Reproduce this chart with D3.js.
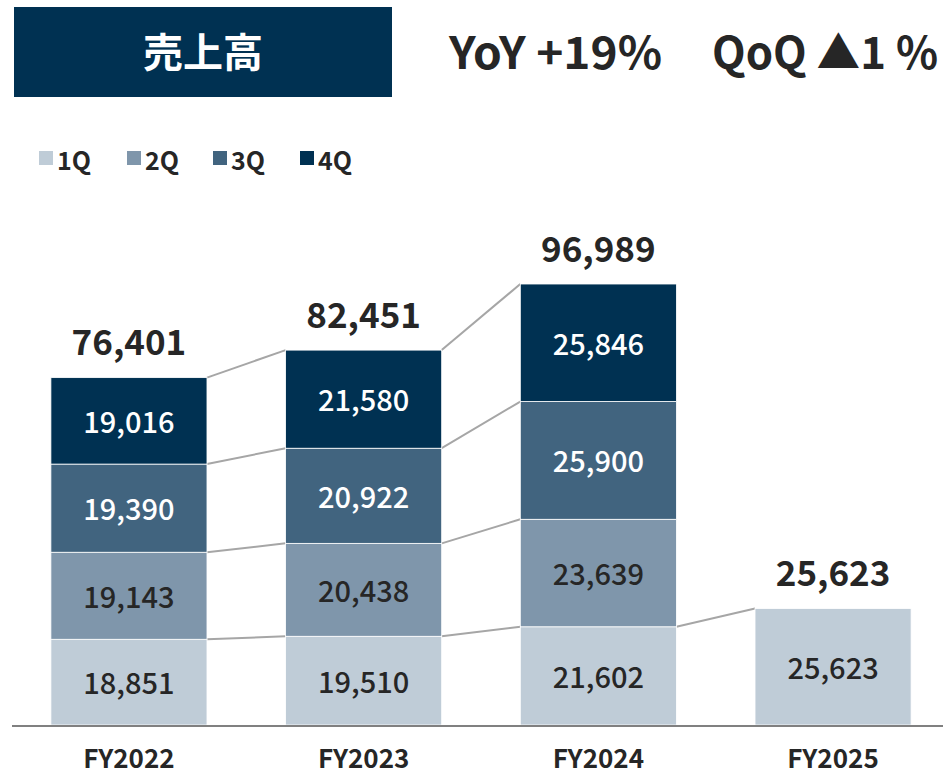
<!DOCTYPE html>
<html>
<head>
<meta charset="utf-8">
<script src="https://cdn.jsdelivr.net/npm/d3@7"></script>
<style>
  body { margin: 0; background: #fff; }
  svg text { font-family: "Noto Sans CJK JP", "Noto Sans", sans-serif; }
</style>
</head>
<body>
<svg id="chart" width="943" height="774"></svg>
<script>
// data
var years = ["FY2022", "FY2023", "FY2024", "FY2025"];
var quarters = ["1Q", "2Q", "3Q", "4Q"];
var q1 = [18851, 19510, 21602, 25623];
var q2 = [19143, 20438, 23639, null];
var q3 = [19390, 20922, 25900, null];
var q4 = [19016, 21580, 25846, null];
var totals = [76401, 82451, 96989, 25623];
var colors = ["#bfccd7", "#7f96ab", "#41647f", "#003152"];
var labelColors = ["#262626", "#262626", "#ffffff", "#ffffff"];

var svg = d3.select("#chart");
var baseY = 725;

// title box
svg.append("rect").attr("x", 14).attr("y", 7).attr("width", 378).attr("height", 90).attr("fill", "#003152");
svg.append("text").attr("x", 203).attr("y", 50).attr("text-anchor", "middle")
  .attr("dominant-baseline", "central").attr("fill", "#fff")
  .attr("font-size", 40).attr("font-weight", 700).text("売上高");
svg.append("text").attr("x", 449).attr("y", 50)
  .attr("dominant-baseline", "central").attr("fill", "#262626")
  .attr("font-size", 44).attr("font-weight", 700)
  .attr("textLength", 213).attr("lengthAdjust", "spacingAndGlyphs")
  .text("YoY +19%");
svg.append("text").attr("x", 712).attr("y", 50)
  .attr("dominant-baseline", "central").attr("fill", "#262626")
  .attr("font-size", 44).attr("font-weight", 700)
  .attr("textLength", 226).attr("lengthAdjust", "spacingAndGlyphs")
  .text("QoQ ▲1 %");

// legend
var legendX = [39, 127, 213, 300];
var legend = svg.append("g").selectAll("g").data(quarters).enter().append("g")
  .attr("transform", function(d, i) { return "translate(" + legendX[i] + ",158)"; });
legend.append("rect").attr("x", 0).attr("y", -7).attr("width", 14).attr("height", 14)
  .attr("fill", function(d, i) { return colors[i]; });
legend.append("text").attr("x", 18).attr("y", 1).attr("dominant-baseline", "central")
  .attr("font-size", 25).attr("font-weight", 700).attr("fill", "#262626")
  .text(function(d) { return d; });

// scales
var x = d3.scaleBand().domain(years).range([11, 951]).paddingInner(0.335).paddingOuter(0.17);
var y = d3.scaleLinear().domain([0, d3.max(totals)]).range([baseY, 284]);

// stacked rows
var series = [q1, q2, q3, q4];
var stacks = years.map(function(yr, j) {
  var acc = 0, segs = [];
  series.forEach(function(s, i) {
    if (s[j] == null) return;
    segs.push({year: yr, q: i, v: s[j], y0: acc, y1: acc + s[j]});
    acc += s[j];
  });
  return segs;
});

// connector lines
var conn = svg.append("g");
for (var j = 0; j < years.length - 1; j++) {
  stacks[j].forEach(function(seg) {
    var next = stacks[j + 1].filter(function(s) { return s.q === seg.q; })[0];
    if (!next) return;
    conn.append("line")
      .attr("x1", x(years[j]) + x.bandwidth()).attr("y1", y(seg.y1))
      .attr("x2", x(years[j + 1])).attr("y2", y(next.y1))
      .attr("stroke", "#a6a6a6").attr("stroke-width", 2);
  });
}

// bars
var segAll = [].concat.apply([], stacks);
svg.append("g").selectAll("rect").data(segAll).enter().append("rect")
  .attr("x", function(d) { return x(d.year); })
  .attr("y", function(d) { return y(d.y1); })
  .attr("width", x.bandwidth())
  .attr("height", function(d) { return y(d.y0) - y(d.y1); })
  .attr("fill", function(d) { return colors[d.q]; })
  .attr("stroke", "#ffffff").attr("stroke-width", 0.8);

// segment labels
svg.append("g").selectAll("text").data(segAll).enter().append("text")
  .attr("x", function(d) { return x(d.year) + x.bandwidth() / 2; })
  .attr("y", function(d) { return (y(d.y0) + y(d.y1)) / 2 - 1; })
  .attr("text-anchor", "middle").attr("dominant-baseline", "central")
  .attr("font-size", 29).attr("font-weight", 500)
  .attr("fill", function(d) { return labelColors[d.q]; })
  .text(function(d) { return d3.format(",")(d.v); });

// totals
svg.append("g").selectAll("text").data(years).enter().append("text")
  .attr("x", function(d) { return x(d) + x.bandwidth() / 2; })
  .attr("y", function(d, i) { return y(totals[i]) - 38; })
  .attr("text-anchor", "middle").attr("dominant-baseline", "central")
  .attr("font-size", 35).attr("font-weight", 700).attr("fill", "#262626")
  .text(function(d, i) { return d3.format(",")(totals[i]); });

// baseline
svg.append("line").attr("x1", 12).attr("x2", 943).attr("y1", baseY + 1).attr("y2", baseY + 1)
  .attr("stroke", "#808080").attr("stroke-width", 2);

// category axis labels
svg.append("g").selectAll("text").data(years).enter().append("text")
  .attr("x", function(d) { return x(d) + x.bandwidth() / 2; })
  .attr("y", 756)
  .attr("text-anchor", "middle").attr("dominant-baseline", "central")
  .attr("font-size", 26).attr("font-weight", 700).attr("fill", "#262626")
  .text(function(d) { return d; });
</script>
</body>
</html>
